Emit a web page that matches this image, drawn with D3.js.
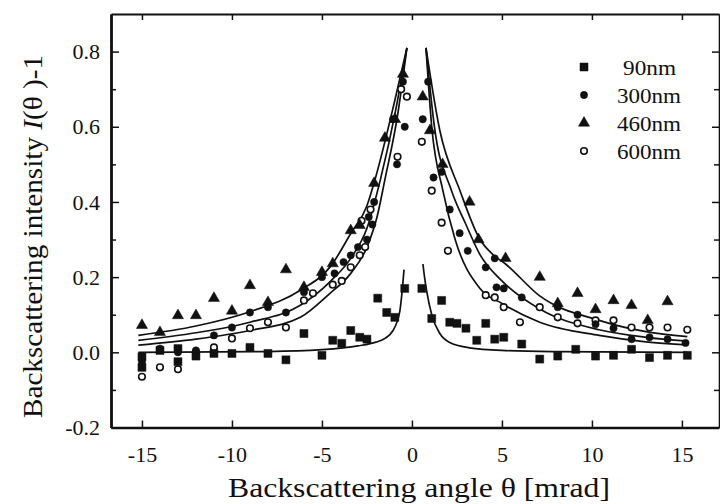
<!DOCTYPE html>
<html>
<head>
<meta charset="utf-8">
<script src="https://cdn.jsdelivr.net/npm/d3@7/dist/d3.min.js"></script>
<style>
  html, body { margin: 0; padding: 0; background: #fff; }
  svg { display: block; }
  text { font-family: "Liberation Serif", "Times New Roman", serif; fill: #111; }
</style>
</head>
<body>
<svg id="chart" width="720" height="504"></svg>
<script>
// ---- tick values ----
const xTicks = [-15, -10, -5, 0, 5, 10, 15];
const xTickLabels = ["-15", "-10", "-5", "0", "5", "10", "15"];
const yTicks = [-0.2, 0.0, 0.2, 0.4, 0.6, 0.8];
const yTickLabels = ["-0.2", "0.0", "0.2", "0.4", "0.6", "0.8"];
const yMinorTicks = [-0.1, 0.1, 0.3, 0.5, 0.7];

// ---- legend ----
const seriesNames = ["90nm", "300nm", "460nm", "600nm"];

// ---- measured points: 90 nm (filled squares) ----
const theta90 = [-15, -15, -14, -13, -13, -12, -11, -10, -9, -8, -7, -6, -5, -4.4, -3.9, -3.4, -2.9, -2.5,
  -1.9, -1.4, -0.95, -0.4, 0.55, 1.1, 1.65, 2.1, 2.5, 3.0, 3.6, 4.1, 4.6, 5.1, 6.1, 7.1, 8.1, 9.1, 10.2,
  11.2, 12.2, 13.2, 14.2, 15.3];
const val90 = [-0.012, -0.04, 0.005, 0.01, -0.025, -0.01, -0.003, -0.003, 0.013, -0.003, -0.02, 0.05, -0.008, 0.032, 0.024, 0.058, 0.04, 0.035,
  0.144, 0.106, 0.093, 0.17, 0.17, 0.09, 0.138, 0.08, 0.077, 0.064, 0.032, 0.077, 0.035, 0.04, 0.022, -0.018, -0.01, 0.008, -0.01,
  -0.008, 0.008, -0.014, -0.008, -0.008];

// ---- measured points: 300 nm (filled circles) ----
const theta300 = [-15, -14, -13, -12, -11, -10, -9, -8, -7, -6, -5, -4.3, -3.8, -3.4, -3.0, -2.5, -2.4, -2.2, -2.1, -1.05, -0.83, -0.4, -0.5,
  0.6, 0.9, 1.2, 1.65, 2.1, 2.65, 3.1, 4.1, 4.6, 4.7, 5.1, 6.1, 8.1, 9.2, 10.2, 11.2, 12.2, 13.2, 14.2, 15.2];
const val300 = [-0.025, 0.01, 0.0, 0.005, 0.045, 0.066, 0.106, 0.12, 0.106, 0.16, 0.2, 0.21, 0.24, 0.258, 0.28, 0.30, 0.36, 0.34, 0.40, 0.62, 0.50, 0.60, 0.72,
  0.62, 0.72, 0.465, 0.48, 0.38, 0.317, 0.27, 0.226, 0.25, 0.173, 0.17, 0.146, 0.12, 0.10, 0.075, 0.064, 0.035, 0.04, 0.035, 0.025];

// ---- measured points: 460 nm (filled triangles) ----
const theta460 = [-15, -14, -13, -12, -11, -10, -9, -8, -7, -6, -5, -4.4, -3.4, -2.9, -2.1, -1.5, -0.94, -0.5,
  0.6, 1.0, 1.7, 3.2, 3.7, 5.2, 7.1, 8.1, 9.2, 10.2, 11.2, 12.2, 13.1, 14.2];
const val460 = [0.072, 0.053, 0.098, 0.098, 0.144, 0.11, 0.178, 0.133, 0.22, 0.173, 0.213, 0.236, 0.324, 0.338, 0.45, 0.57, 0.62, 0.74,
  0.68, 0.59, 0.50, 0.40, 0.30, 0.25, 0.20, 0.13, 0.157, 0.114, 0.138, 0.125, 0.085, 0.135];

// ---- measured points: 600 nm (open circles) ----
const theta600 = [-15, -14, -13, -12, -11, -10, -9, -8, -7, -6, -5.5, -4.4, -3.9, -3.4, -2.9, -2.6, -2.8, -2.3, -0.8, -0.6, -0.28,
  0.55, 1.1, 1.65, 2.0, 4.1, 4.6, 5.1, 6.0, 7.1, 8.1, 9.2, 10.2, 11.2, 12.2, 13.2, 14.2, 15.3];
const val600 = [-0.065, -0.04, -0.045, 0.0, 0.013, 0.037, 0.064, 0.08, 0.066, 0.138, 0.157, 0.18, 0.19, 0.226, 0.258, 0.28, 0.35, 0.38, 0.52, 0.70, 0.68,
  0.56, 0.43, 0.345, 0.27, 0.152, 0.146, 0.12, 0.08, 0.12, 0.093, 0.077, 0.085, 0.085, 0.066, 0.066, 0.066, 0.06];

// ---- fitted curves (left and right branches, sampled) ----
const fit90Left = [[-15.2, 0.0], [-8, 0.002], [-5, 0.007], [-3, 0.017], [-2, 0.027], [-1.5, 0.037], [-1.05, 0.058], [-0.8, 0.085], [-0.67, 0.11], [-0.55, 0.16], [-0.44, 0.22]];
const fit90Right = [[0.61, 0.235], [0.7, 0.2], [0.83, 0.16], [1.1, 0.1], [1.55, 0.05], [2.1, 0.026], [3.2, 0.012], [5, 0.005], [8, 0.002], [15.3, 0.0]];
const fit300Left = [[-15.2, 0.032], [-12, 0.052], [-9, 0.08], [-6.2, 0.125], [-4.5, 0.19], [-3.4, 0.25], [-2.5, 0.33], [-1.75, 0.46], [-0.9, 0.645], [-0.28, 0.81]];
const fit300Right = [[0.78, 0.81], [1.25, 0.6], [2.2, 0.43], [3.0, 0.34], [3.78, 0.26], [5, 0.19], [7.1, 0.115], [10.4, 0.06], [13, 0.04], [15.3, 0.03]];
const fit460Left = [[-15.2, 0.045], [-12, 0.07], [-9, 0.108], [-6.2, 0.165], [-4.5, 0.23], [-3.4, 0.316], [-2.5, 0.39], [-2.05, 0.46], [-1.0, 0.66], [-0.28, 0.81]];
const fit460Right = [[0.78, 0.81], [1.55, 0.59], [2.67, 0.43], [3.78, 0.30], [4.5, 0.26], [5.2, 0.235], [7.1, 0.15], [10.4, 0.085], [13, 0.055], [15.3, 0.042]];
const fit600Left = [[-15.2, 0.019], [-12, 0.035], [-9, 0.058], [-6.2, 0.093], [-4.6, 0.155], [-3.4, 0.21], [-2.5, 0.28], [-1.94, 0.36], [-1.5, 0.46], [-0.8, 0.63], [-0.28, 0.81]];
const fit600Right = [[0.78, 0.81], [1.1, 0.6], [1.72, 0.43], [2.4, 0.3], [3.78, 0.17], [5, 0.13], [7.1, 0.08], [10.4, 0.045], [13, 0.028], [15.3, 0.02]];

// ---- layout ----
const svg = d3.select("#chart");
const frameLeft = 111, frameRight = 719, frameTop = 14, frameBottom = 427.5;
const x = d3.scaleLinear().domain([-16.72, 17.06]).range([frameLeft, frameRight]);
const y = d3.scaleLinear().domain([-0.2, 0.9]).range([frameBottom, frameTop]);

const ink = "#111";

// frame with inward ticks on all four sides
const gBottom = svg.append("g").attr("transform", `translate(0,${frameBottom})`)
  .call(d3.axisBottom(x).tickValues(xTicks).tickFormat((d, i) => xTickLabels[i]).tickSize(-7).tickSizeOuter(0).tickPadding(19));
const gTop = svg.append("g").attr("transform", `translate(0,${frameTop})`)
  .call(d3.axisTop(x).tickValues(xTicks).tickFormat("").tickSize(-6).tickSizeOuter(0));
const gLeft = svg.append("g").attr("transform", `translate(${frameLeft},0)`)
  .call(d3.axisLeft(y).tickValues(yTicks).tickFormat((d, i) => yTickLabels[i]).tickSize(-8).tickSizeOuter(0).tickPadding(11));
const gLeftMinor = svg.append("g").attr("transform", `translate(${frameLeft},0)`)
  .call(d3.axisLeft(y).tickValues(yMinorTicks).tickFormat("").tickSize(-5).tickSizeOuter(0));
const gRight = svg.append("g").attr("transform", `translate(${frameRight},0)`)
  .call(d3.axisRight(y).tickValues(yTicks).tickFormat("").tickSize(-7).tickSizeOuter(0));
const gRightMinor = svg.append("g").attr("transform", `translate(${frameRight},0)`)
  .call(d3.axisRight(y).tickValues(yMinorTicks).tickFormat("").tickSize(-5).tickSizeOuter(0));

[gBottom, gTop, gLeft, gLeftMinor, gRight, gRightMinor].forEach(g => {
  g.selectAll("path.domain").attr("stroke", ink);
  g.selectAll(".tick line").attr("stroke", ink).attr("stroke-width", 1.5);
  g.selectAll(".tick text").attr("font-size", 22).attr("fill", ink)
    .style("font-family", '"Liberation Serif", "Times New Roman", serif');
});
gBottom.select("path.domain").attr("stroke-width", 2.4);
gLeft.select("path.domain").attr("stroke-width", 2.4);
gLeftMinor.select("path.domain").attr("stroke-width", 2.4);
gTop.select("path.domain").attr("stroke-width", 1.8);
gRight.select("path.domain").attr("stroke-width", 1.6);

// fitted curves
const line = d3.line().x(d => x(d[0])).y(d => y(d[1])).curve(d3.curveMonotoneX);
const plot = svg.append("g");
[fit90Left, fit90Right, fit300Left, fit300Right, fit460Left, fit460Right, fit600Left, fit600Right].forEach(c => {
  plot.append("path").attr("d", line(c)).attr("fill", "none").attr("stroke", ink).attr("stroke-width", 1.7);
});

// markers
const sq = d3.symbol().type(d3.symbolSquare).size(64);
const circ = d3.symbol().type(d3.symbolCircle).size(42);
const tri = d3.symbol().type(d3.symbolTriangle).size(54);
const ocirc = d3.symbol().type(d3.symbolCircle).size(34);

function drawSeries(xs, vs, sym, filled) {
  plot.append("g").selectAll("path").data(xs.map((t, i) => [t, vs[i]])).join("path")
    .attr("transform", d => `translate(${x(d[0])},${y(d[1])})`)
    .attr("d", sym)
    .attr("fill", filled ? ink : "#fff")
    .attr("stroke", ink)
    .attr("stroke-width", filled ? 0.5 : 1.6);
}
drawSeries(theta600, val600, ocirc, false);
drawSeries(theta90, val90, sq, true);
drawSeries(theta300, val300, circ, true);
drawSeries(theta460, val460, tri, true);

// legend
const legendSyms = [[sq, true], [circ, true], [tri, true], [ocirc, false]];
const legend = svg.append("g");
seriesNames.forEach((name, i) => {
  const cy = 67 + i * 28;
  legend.append("path").attr("transform", `translate(584,${cy})`)
    .attr("d", legendSyms[i][0]).attr("fill", legendSyms[i][1] ? ink : "#fff")
    .attr("stroke", ink).attr("stroke-width", legendSyms[i][1] ? 0.5 : 1.6);
  legend.append("text").attr("x", i === 0 ? 623 : 617).attr("y", cy + 8)
    .attr("font-size", 21).attr("textLength", i === 0 ? 53 : 64).attr("lengthAdjust", "spacingAndGlyphs")
    .text(name);
});

// axis titles
svg.append("text").attr("x", 228).attr("y", 497).attr("font-size", 27)
  .attr("textLength", 382).attr("lengthAdjust", "spacingAndGlyphs")
  .text("Backscattering angle  \u03b8  [mrad]");

const yt = svg.append("text").attr("transform", "translate(42,418) rotate(-90)")
  .attr("font-size", 27).attr("textLength", 363).attr("lengthAdjust", "spacingAndGlyphs");
yt.append("tspan").text("Backscattering intensity ");
yt.append("tspan").attr("font-style", "italic").text("I");
yt.append("tspan").text("(\u03b8 )-1");
</script>
</body>
</html>
